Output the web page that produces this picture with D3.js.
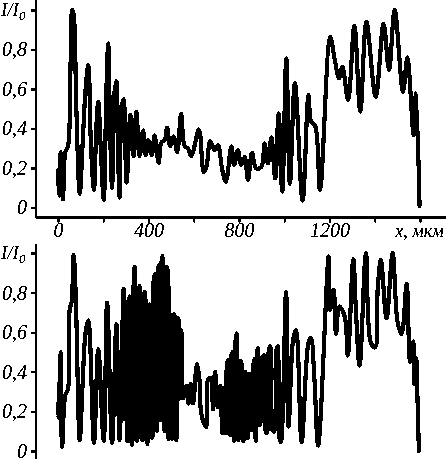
<!DOCTYPE html>
<html><head><meta charset="utf-8">
<script src="https://cdn.jsdelivr.net/npm/d3@7"></script>
<style>html,body{margin:0;padding:0;background:#fff}svg{display:block}
text{font-family:"Liberation Serif",serif;font-style:italic;fill:#000}</style></head>
<body><svg id="c" width="446" height="459"><defs><filter id="bin" x="0" y="0" width="446" height="459" filterUnits="userSpaceOnUse" color-interpolation-filters="sRGB"><feComponentTransfer><feFuncA type="discrete" tableValues="0 0 1 1 1"/></feComponentTransfer></filter></defs></svg>
<script>
const topX=[0,4,12,22,32,44,55,63,69,81,96,110,122,134,146,159,169,178,189,202,214,222,230,239,249,258,265,272,281,290,303,320,334,346,361,376,387,399,414,427,445,457,471,482,496,511,527,544,560,574,589,623,644,655,673,692,707,726,742,766,778,795,810,825,840,857,876,899,913,928,943,960,975,991,1009,1025,1047,1081,1107,1119,1137,1158,1203,1223,1242,1257,1282,1310,1336,1363,1404,1439,1463,1488,1525,1544,1572,1582,1598];
const topY=[.19,.06,.28,.04,.28,.31,.7,1,.98,.5,.07,.35,.6,.72,.3,.09,.4,.535,.3,.04,.6,.83,.4,.1,.58,.64,.3,.05,.5,.55,.125,.47,.26,.485,.26,.39,.265,.34,.265,.365,.225,.33,.34,.405,.31,.36,.28,.475,.31,.3,.26,.395,.18,.2,.335,.29,.315,.19,.13,.31,.215,.29,.215,.257,.14,.277,.197,.206,.324,.223,.355,.147,.476,.08,.755,.12,.63,.034,.57,.434,.412,.088,.865,.75,.654,.713,.544,.92,.485,.94,.56,.93,.696,1,.586,.76,.367,.58,.007];
const botX=[0,2,12,18,32,44,52,60,69,78,96,108,122,134,159,178,202,217,239,258,272,290,296,303,306,313,317,321,327,333,339,345,349,355,361,367,373,379,384,390,395,400,405,411,417,422,427,433,437,441,445,451,454,457,461,467,471,476,482,486,489,493,496,501,505,509,514,518,523,528,533,538,545,552,567,577,586,597,614,626,633,655,663,675,685,694,707,717,726,731,735,738,742,747,753,757,760,766,772,776,779,785,790,795,798,804,809,814,819,824,828,833,838,843,848,854,860,864,868,872,875,880,884,889,893,897,901,907,912,918,924,931,938,945,950,956,964,971,978,985,1008,1019,1040,1052,1077,1108,1118,1133,1150,1196,1202,1218,1229,1243,1267,1281,1305,1317,1333,1361,1383,1402,1413,1427,1452,1479,1501,1519,1541,1556,1570,1574,1583,1588,1595];
const botY=[.24,.165,.5,.02,.28,.31,.72,.75,.99,.8,.055,.32,.6,.66,.04,.515,.05,.75,.04,.64,.055,.82,.16,.75,.05,.76,.78,.08,.03,.8,.93,.08,.05,.8,.835,.07,.055,.78,.805,.06,.035,.72,.74,.08,.065,.85,.895,.12,.1,.9,.94,.18,.155,.95,.985,.15,.1,.92,.93,.1,.06,.68,.69,.07,.06,.68,.69,.08,.055,.67,.66,.265,.61,.265,.33,.24,.34,.24,.44,.35,.19,.12,.36,.37,.21,.4,.22,.33,.09,.3,.32,.1,.09,.44,.46,.1,.08,.48,.5,.07,.05,.56,.595,.07,.055,.44,.455,.07,.05,.39,.4,.08,.065,.38,.39,.11,.105,.44,.465,.07,.05,.5,.52,.14,.13,.44,.45,.48,.485,.1,.09,.5,.53,.12,.1,.1,.5,.53,.07,.044,.803,.123,.57,.61,.044,.553,.57,.368,.027,.983,.713,.815,.59,.73,.68,.482,.97,.705,.43,1,.545,.523,.82,.966,.67,1,.65,.59,.843,.45,.553,.34,.47,.3,0];
const xTicks=[0,200,400,600,800,1000,1200,1400,1600];
const xLabels=["0","","400","","800","","1200","","x, мкм"];
const yTicks=[0,.2,.4,.6,.8,1];
const yLabels=["0","0,2","0,4","0,6","0,8",""];
const yTitle="I/I";
const ySub="0";

const root=d3.select("#c").append("g").attr("filter","url(#bin)");
const x=d3.scaleLinear().domain([0,1600]).range([58,420]);
const yT=d3.scaleLinear().domain([0,1]).range([207.5,10]);
const yB=d3.scaleLinear().domain([0,1]).range([451,253]);
const fs=20;

function panel(xs,ys,y,top,bottom){
  const ax=root.append("g").attr("transform","translate(36,0)")
    .call(d3.axisLeft(y).tickValues(yTicks).tickSize(5).tickFormat((d,i)=>yLabels[i]));
  ax.select(".domain").remove();
  ax.selectAll("line").attr("stroke","#000").attr("stroke-width",2);
  ax.selectAll("text").attr("x",-9).attr("font-size",fs).attr("dy","0.32em");
  root.append("line").attr("x1",36).attr("x2",36).attr("y1",top).attr("y2",bottom).attr("stroke","#000").attr("stroke-width",2);
  const t=root.append("text").attr("x",1).attr("y",y(1)+6).attr("font-size",fs-1);
  t.append("tspan").text(yTitle);
  t.append("tspan").attr("font-size",13).attr("dy",4).text(ySub);
  root.append("path").datum(xs.map((v,i)=>[v,ys[i]]))
    .attr("fill","none").attr("stroke","#000").attr("stroke-width",4).attr("stroke-linejoin","round").attr("stroke-linecap","round")
    .attr("d",d3.line().x(d=>x(d[0])).y(d=>y(d[1])).curve(d3.curveCatmullRom.alpha(0.5)));
}
panel(topX,topY,yT,0,218);
panel(botX,botY,yB,244,459);

const xa=root.append("g").attr("transform","translate(0,217.5)")
  .call(d3.axisBottom(x).tickValues(xTicks).tickSize(5).tickFormat((d,i)=>xLabels[i]));
xa.select(".domain").remove();
xa.selectAll("line").attr("stroke","#000").attr("stroke-width",2);
xa.selectAll("text").attr("font-size",fs).attr("y",5).attr("dy","0.71em");
xa.selectAll("text").filter((d,i)=>i===8).attr("font-size",18).attr("x",-1).attr("dy","0.8em");
root.append("line").attr("x1",36).attr("x2",446).attr("y1",217.5).attr("y2",217.5).attr("stroke","#000").attr("stroke-width",2);
</script></body></html>
